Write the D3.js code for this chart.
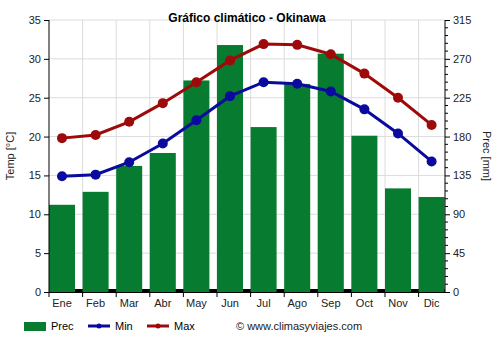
<!DOCTYPE html>
<html><head><meta charset="utf-8">
<script src="https://cdn.jsdelivr.net/npm/d3@7"></script>
<style>body{margin:0;background:#fff}svg{font-family:"Liberation Sans",Arial,sans-serif}</style>
</head><body><svg id="c" width="500" height="350"></svg>
<script>
const months = ["Ene","Feb","Mar","Abr","May","Jun","Jul","Ago","Sep","Oct","Nov","Dic"];
const prec = [101,116,146,161,245,286,191,241,276,181,120,110];
const tmin = [14.9,15.1,16.7,19.1,22.1,25.2,27.0,26.8,25.8,23.5,20.4,16.8];
const tmax = [19.8,20.2,21.9,24.3,27.0,29.8,31.9,31.8,30.6,28.1,25.0,21.5];
const tempTicks = [0,5,10,15,20,25,30,35];
const precTicks = [0,45,90,135,180,225,270,315];

const svg = d3.select("#c");
const L = 49, R = 445, T = 20, B = 292;
const GREEN = "#077b30", BLUE = "#0a0a9e", RED = "#9e0a0a";

const x = d3.scaleBand().domain(months).range([L, L + 12 * 33.6]).paddingInner(0).paddingOuter(0);
const barW = 26;
const yT = d3.scaleLinear().domain([0, 35]).range([B, T]);
const yP = d3.scaleLinear().domain([0, 315]).range([B, T]);

// grid
svg.append("g").selectAll("line").data(tempTicks.slice(1)).join("line")
  .attr("x1", L).attr("x2", R).attr("y1", d => yT(d)).attr("y2", d => yT(d))
  .attr("stroke", "#dcdcdc").attr("stroke-width", 1);
svg.append("g").selectAll("line").data(months.slice(1)).join("line")
  .attr("x1", d => x(d)).attr("x2", d => x(d)).attr("y1", T).attr("y2", B)
  .attr("stroke", "#dcdcdc").attr("stroke-width", 1);

// black baseline strip
svg.append("rect").attr("x", L).attr("y", B - 3).attr("width", R - L).attr("height", 3).attr("fill", "#000");

// bars
svg.append("g").selectAll("rect").data(prec).join("rect")
  .attr("x", (d, i) => x(months[i])).attr("width", barW)
  .attr("y", d => yP(d)).attr("height", d => B - yP(d))
  .attr("fill", GREEN);

// lines
const cx = i => x(months[i]) + barW / 2;
function series(data, color) {
  const line = d3.line().x((d, i) => cx(i)).y(d => yT(d));
  svg.append("path").datum(data).attr("d", line).attr("fill", "none")
    .attr("stroke", color).attr("stroke-width", 3);
  svg.append("g").selectAll("circle").data(data).join("circle")
    .attr("cx", (d, i) => cx(i)).attr("cy", d => yT(d)).attr("r", 5).attr("fill", color);
}
series(tmax, RED);
series(tmin, BLUE);

// axes
const fs = "11px";
const la = svg.append("g").attr("transform", `translate(${L},0)`)
  .call(d3.axisLeft(yT).tickValues(tempTicks).tickSize(5).tickPadding(3));
la.select(".domain").attr("d", `M0,${T}V${B}`).attr("stroke", "#000");
la.selectAll("text").style("font-size", fs).attr("fill", "#222");

const ra = svg.append("g").attr("transform", `translate(${R},0)`)
  .call(d3.axisRight(yP).tickValues(precTicks).tickSize(5).tickPadding(3));
ra.select(".domain").attr("d", `M0,${T}V${B}`).attr("stroke", "#000");
ra.selectAll("text").style("font-size", fs).attr("fill", "#222");
ra.append("g").selectAll("line").data(d3.range(0, 316, 9).filter(v => v % 45 !== 0)).join("line")
  .attr("x1", 0).attr("x2", 3).attr("y1", d => yP(d)).attr("y2", d => yP(d)).attr("stroke", "#000");

const xa = svg.append("g").attr("transform", `translate(0,${B})`)
  .call(d3.axisBottom(x).tickSize(0).tickPadding(7));
xa.select(".domain").remove();
xa.selectAll(".tick text").attr("x", -(x.bandwidth() - barW) / 2).style("font-size", fs).attr("fill", "#222");
svg.append("g").selectAll("line").data(months).join("line")
  .attr("x1", d => x(d)).attr("x2", d => x(d)).attr("y1", B).attr("y2", B + 5).attr("stroke", "#000");
svg.append("line").attr("x1", L).attr("x2", R).attr("y1", B + 0.5).attr("y2", B + 0.5).attr("stroke", "#000");

// titles
svg.append("text").attr("x", 247).attr("y", 22).attr("text-anchor", "middle")
  .style("font-size", "12px").style("font-weight", "bold").text("Gráfico climático - Okinawa");
svg.append("text").attr("transform", "translate(14,156) rotate(-90)").attr("text-anchor", "middle")
  .style("font-size", "11px").attr("fill", "#222").text("Temp [°C]");
svg.append("text").attr("transform", "translate(483,156) rotate(90)").attr("text-anchor", "middle")
  .style("font-size", "11px").attr("fill", "#222").text("Prec [mm]");

// legend
const ly = 326;
svg.append("rect").attr("x", 24).attr("y", ly - 4).attr("width", 22).attr("height", 9).attr("fill", GREEN);
svg.append("text").attr("x", 51).attr("y", ly + 4).style("font-size", "11px").text("Prec");
[[88, BLUE, "Min"], [147, RED, "Max"]].forEach(([lx, c, t]) => {
  svg.append("line").attr("x1", lx).attr("x2", lx + 22).attr("y1", ly).attr("y2", ly).attr("stroke", c).attr("stroke-width", 3);
  svg.append("circle").attr("cx", lx + 11).attr("cy", ly).attr("r", 2.5).attr("fill", c);
  svg.append("text").attr("x", lx + 27).attr("y", ly + 4).style("font-size", "11px").text(t);
});
svg.append("text").attr("x", 236).attr("y", ly + 4).style("font-size", "11px").attr("fill", "#222").text("© www.climasyviajes.com");
</script></body></html>
